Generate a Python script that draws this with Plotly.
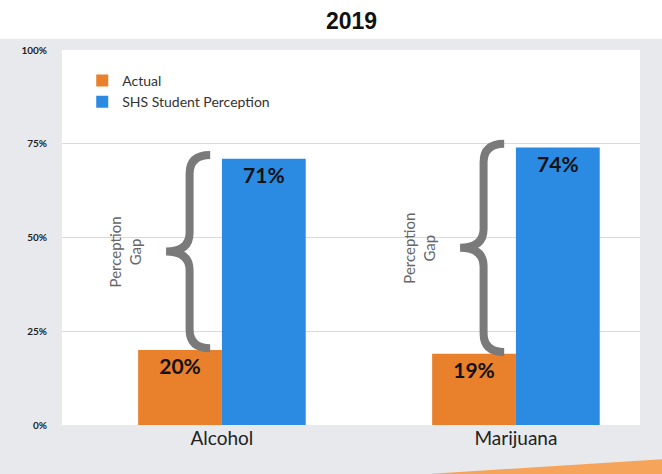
import plotly.graph_objects as go

categories = ["Alcohol", "Marijuana"]
actual = [20, 19]
perception = [71, 74]
y_ticks = [0, 25, 50, 75, 100]
y_tick_labels = ["0%", "25%", "50%", "75%", "100%"]
title_text = "2019"

x_pos = list(range(len(categories)))
ORANGE = "#E8802C"
BLUE = "#2B8BE2"
BRACE = "#7a7a7a"

fig = go.Figure()
fig.add_trace(go.Bar(
    x=x_pos, y=actual, name="Actual", marker=dict(color=ORANGE, line=dict(width=0)),
    text=[f"{v}%" for v in actual], textposition="inside", insidetextanchor="end",
    textfont=dict(family="Lato", size=21, color="#111", weight="bold"), textangle=0,
))
fig.add_trace(go.Bar(
    x=x_pos, y=perception, name="SHS Student Perception", marker=dict(color=BLUE, line=dict(width=0)),
    text=[f"{v}%" for v in perception], textposition="inside", insidetextanchor="end",
    textfont=dict(family="Lato", size=21, color="#111", weight="bold"), textangle=0,
))

shapes = [
    # slide background
    dict(type="rect", xref="paper", yref="paper", x0=-0.2, x1=1.2, y0=-0.3, y1=1.03,
         fillcolor="#E7E9ED", line=dict(width=0), layer="below"),
    # white plotting panel
    dict(type="rect", xref="paper", yref="paper", x0=0, x1=1, y0=0, y1=1,
         fillcolor="white", line=dict(width=0), layer="below"),
    # orange decoration bottom right
    dict(type="path", xref="paper", yref="paper",
         path="M 0.64,-0.13 L 1.1,-0.085 L 1.1,-0.2 L 0.62,-0.2 Z",
         fillcolor="#F6A45A", line=dict(width=0), layer="below"),
]

annotations = []
for i, (a, p) in enumerate(zip(actual, perception)):
    xr = x_pos[i] - 0.04
    xm = x_pos[i] - 0.11
    xt = x_pos[i] - 0.19
    top, bot = p + 1, a + 0.5
    mid = (top + bot) / 2
    d = 5
    path = (f"M {xr},{top} Q {xm},{top} {xm},{top - d} "
            f"L {xm},{mid + d} Q {xm},{mid} {xt},{mid} "
            f"Q {xm},{mid} {xm},{mid - d} "
            f"L {xm},{bot + d} Q {xm},{bot} {xr},{bot}")
    shapes.append(dict(type="path", xref="x", yref="y", path=path,
                       line=dict(color=BRACE, width=8), layer="above"))
    annotations.append(dict(x=x_pos[i] - 0.33, y=mid, xref="x", yref="y",
                            text="Perception<br>Gap", showarrow=False, textangle=-90,
                            font=dict(family="Lato", size=15, color="#666")))

annotations.append(dict(x=0.5, y=1, xref="paper", yref="paper", yanchor="top",
                        yshift=44, text=f"<b>{title_text}</b>", showarrow=False,
                        font=dict(family="Liberation Sans", size=23, color="#111")))

fig.update_layout(
    width=662, height=474,
    margin=dict(l=62, r=22, t=50, b=49),
    paper_bgcolor="white", plot_bgcolor="rgba(0,0,0,0)",
    barmode="group", bargap=0.43, bargroupgap=0,
    showlegend=True,
    legend=dict(x=0.035, y=0.96, xanchor="left", yanchor="top", bgcolor="rgba(0,0,0,0)",
                font=dict(family="Lato", size=14, color="#333"), itemwidth=30,
                tracegroupgap=0),
    xaxis=dict(range=[-0.544, 1.422], tickvals=x_pos, ticktext=categories,
               showgrid=False, zeroline=False, showline=False, ticks="",
               tickfont=dict(family="Lato", size=19, color="#222")),
    yaxis=dict(range=[0, 100], tickvals=y_ticks, ticktext=y_tick_labels,
               showgrid=True, gridcolor="#DADADA", gridwidth=1, zeroline=False,
               showline=False, ticks="", ticklabelstandoff=14,
               tickfont=dict(family="Lato", size=10, color="#222", weight="bold")),
    shapes=shapes, annotations=annotations,
)

fig.write_html("out.html")
